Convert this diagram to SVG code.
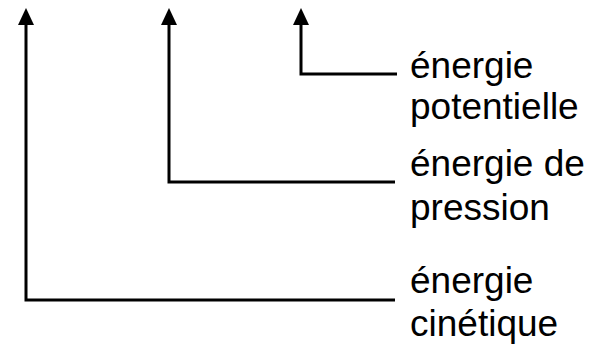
<svg xmlns="http://www.w3.org/2000/svg" width="601" height="346" viewBox="0 0 601 346">
  <style>
    .conn { fill: none; stroke: #000; stroke-width: 3; }
    .label { font-family: "Liberation Sans", Arial, sans-serif; font-size: 37px; fill: #000; }
  </style>
  <defs>
    <!-- solid triangular head, drawn pointing along +x so orient="auto" aligns it with the line -->
    <marker id="arrow" markerUnits="userSpaceOnUse" markerWidth="17" markerHeight="16" refX="1" refY="8" orient="auto" viewBox="0 0 17 16">
      <path d="M0,0 L17,8 L0,16 Z" fill="#000"/>
    </marker>
  </defs>
  <rect width="601" height="346" fill="#fff"/>
  <g id="connectors">
    <path class="conn" d="M395,300 H26 V24" marker-end="url(#arrow)"/>
    <path class="conn" d="M395,182 H169 V24" marker-end="url(#arrow)"/>
    <path class="conn" d="M397,74 H301 V24" marker-end="url(#arrow)"/>
  </g>
  <g id="energie-potentielle">
    <text class="label" x="410" y="78">énergie</text>
    <text class="label" x="410" y="119">potentielle</text>
  </g>
  <g id="energie-pression">
    <text class="label" x="410" y="176">énergie de</text>
    <text class="label" x="410" y="220">pression</text>
  </g>
  <g id="energie-cinetique">
    <text class="label" x="410" y="293">énergie</text>
    <text class="label" x="410" y="336">cinétique</text>
  </g>
</svg>
